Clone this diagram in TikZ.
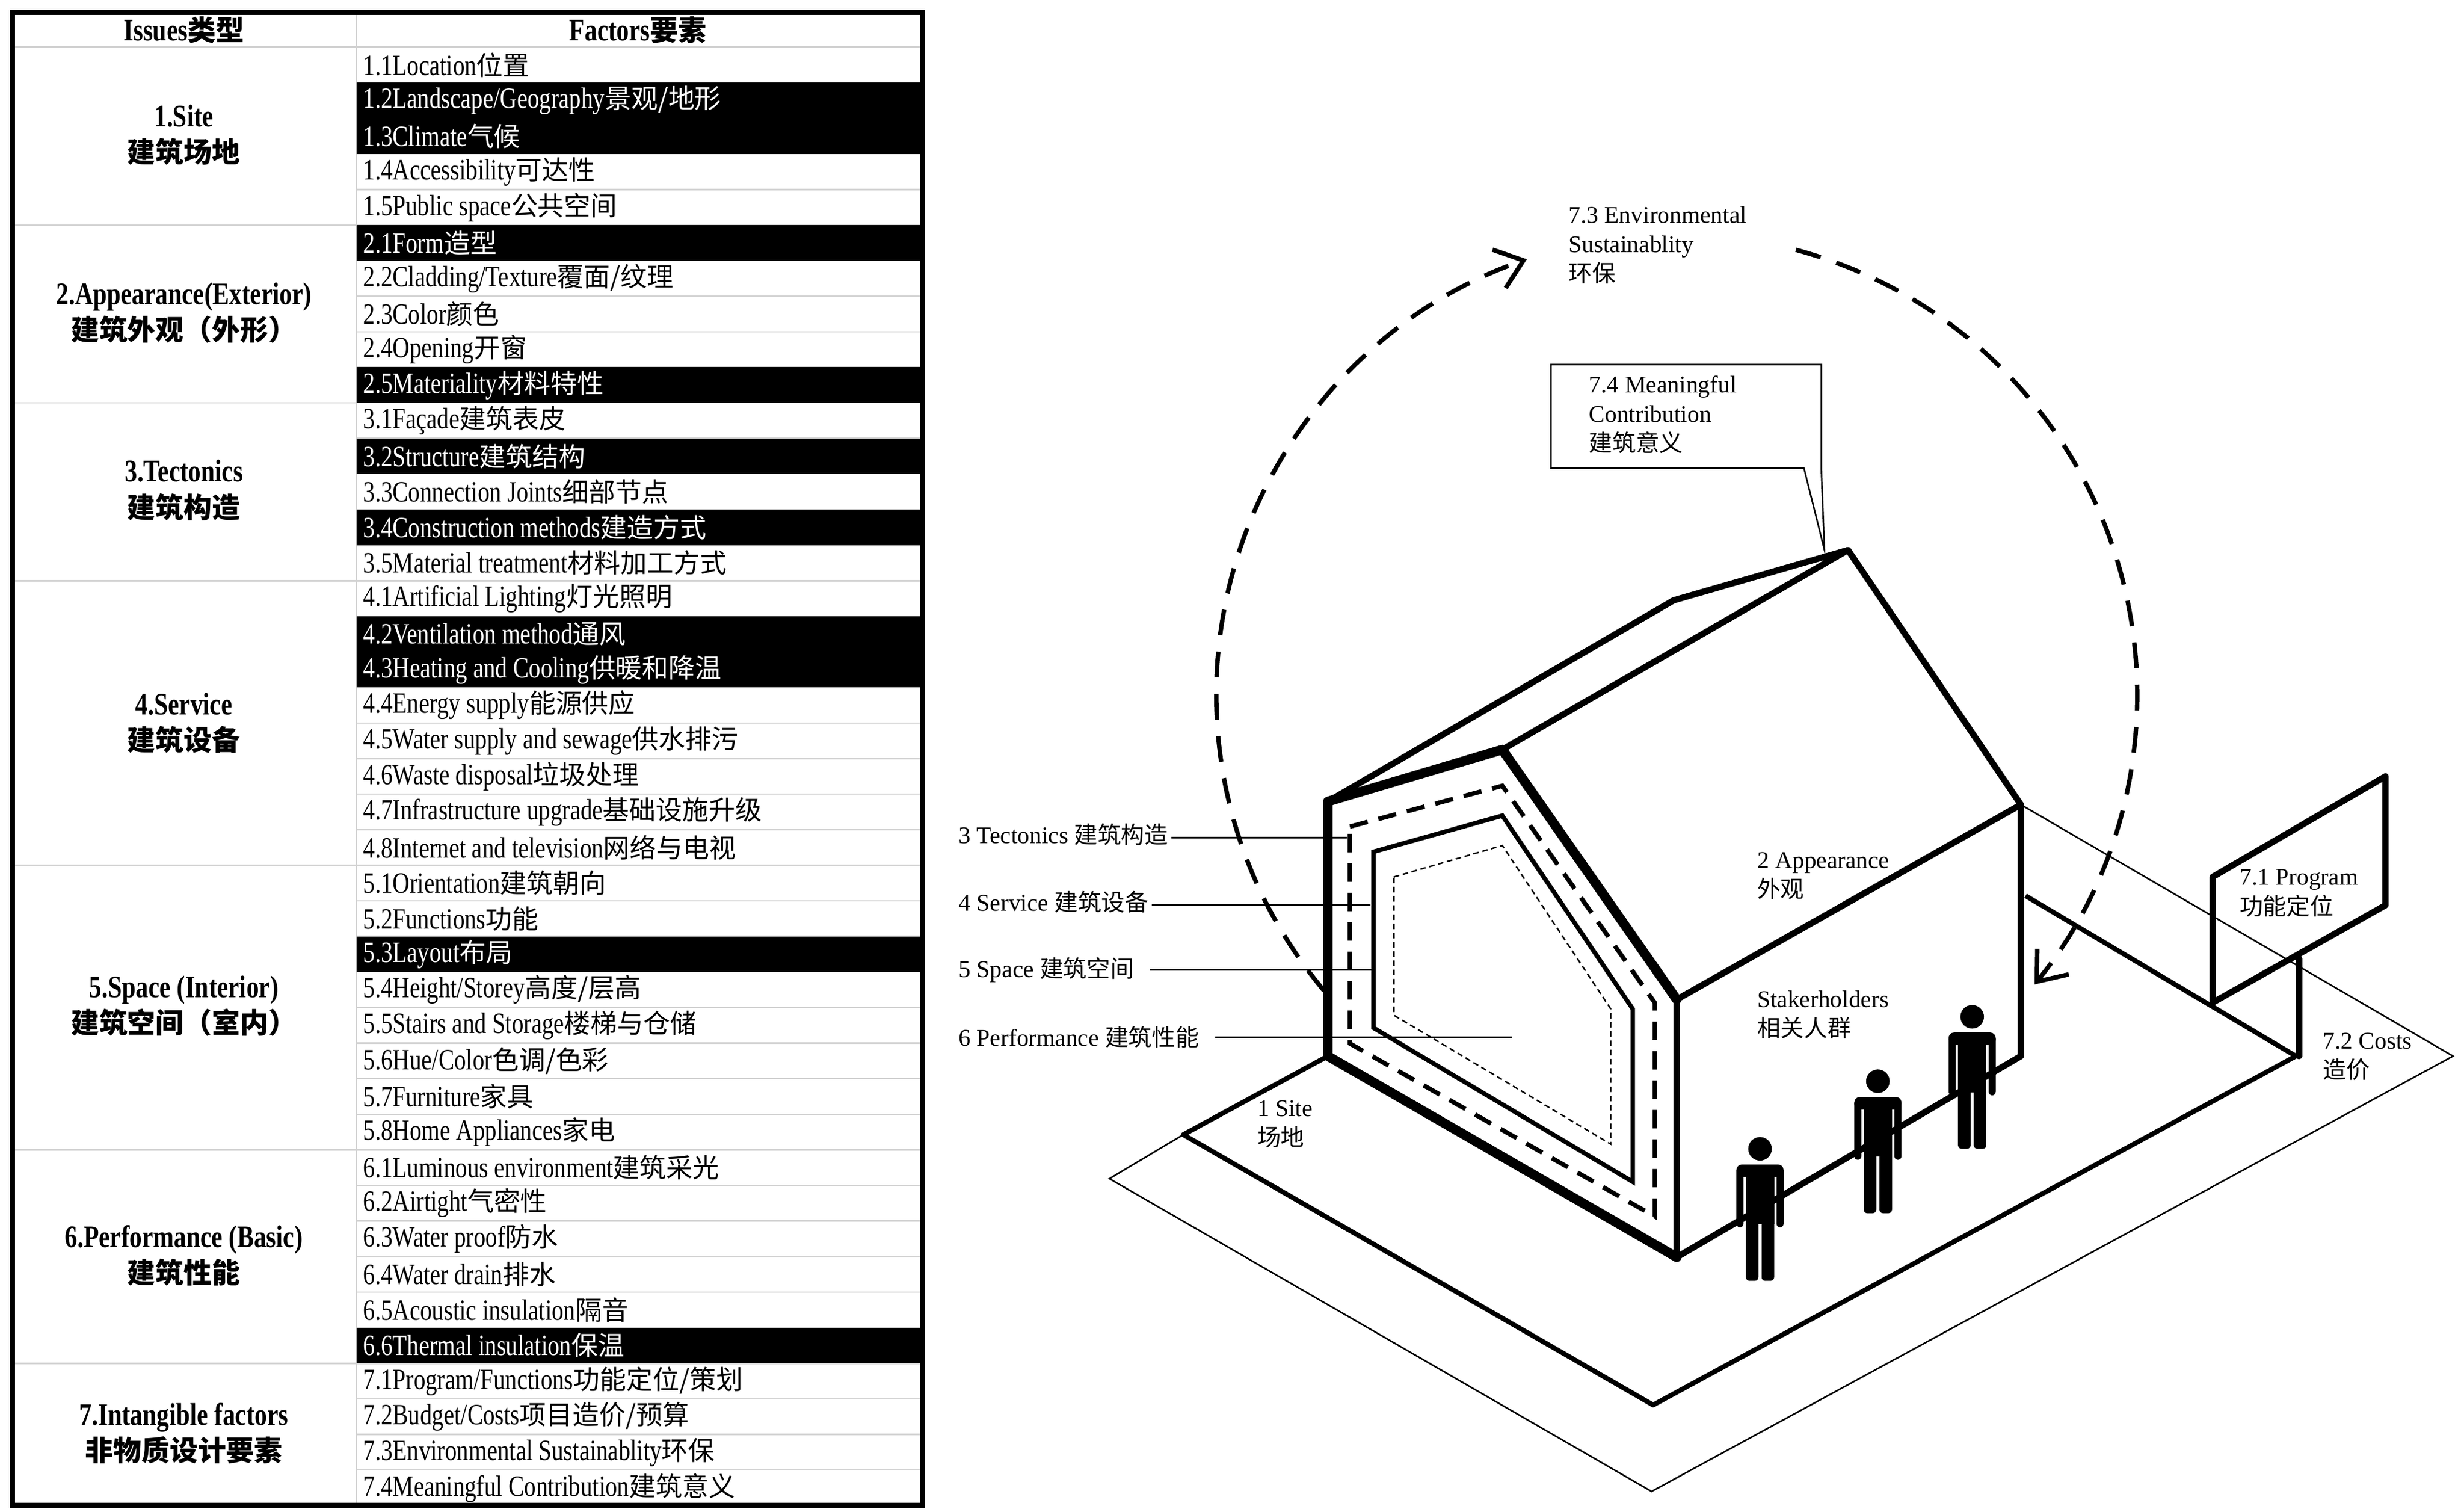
\documentclass[tikz,border=0pt]{standalone}
\usepackage{fontspec}
\setmainfont{Liberation Serif}
\newfontfamily\narrowfont{Liberation Serif}[FakeStretch=0.8]
\newfontfamily\cjk{Noto Sans CJK SC}[Scale=0.9]
\newfontfamily\cjkd{Noto Sans CJK SC}[Scale=0.98]
\newcommand\C[1]{{\cjk #1}}
\newcommand\D[1]{{\cjkd #1}}
\usetikzlibrary{arrows.meta}
\tikzset{
  rowtext/.style={anchor=west,inner sep=0pt,font=\narrowfont\fontsize{16}{18}\selectfont},
  issue/.style={align=center,inner sep=0pt,font=\narrowfont\bfseries\fontsize{17}{19.5}\selectfont},
  lbl/.style={anchor=north west,align=left,inner sep=0pt,font=\fontsize{13}{16}\selectfont},
  thk/.style={line width=3.4pt,line join=round,line cap=round},
  vthk/.style={line width=5.2pt,line join=round,line cap=round},
  sitel/.style={line width=2.6pt,line join=round},
  thinl/.style={line width=0.85pt},
  person/.pic={
    \fill (0,0) circle (7.5);
    \fill[rounded corners=3] (-15,10) rectangle (15,18);
    \fill[rounded corners=2] (-15,12) rectangle (-10.5,50);
    \fill[rounded corners=2] (10.5,12) rectangle (15,50);
    \fill (-9,12) rectangle (9,48);
    \fill[rounded corners=2] (-9,44) rectangle (-1,84);
    \fill[rounded corners=2] (1,44) rectangle (9,84);
  }
}
\newcommand\tabrow[3]{%
  \pgfmathsetmacro\yt{30+22.634*(#1-1)}%
  \pgfmathsetmacro\yb{30+22.634*#1}%
  \ifnum#2=1
    \fill (227,\yt) rectangle (587,\yb);
    \node[rowtext,text=white] (r#1) at (231,{(\yt+\yb)/2}) {#3};
  \else
    \draw[gray!35,line width=0.8pt] (227,\yb) -- (587,\yb);
    \node[rowtext] (r#1) at (231,{(\yt+\yb)/2}) {#3};
  \fi}
\begin{document}
\begin{tikzpicture}[x=0.03cm,y=-0.03cm]
\useasboundingbox (0,0) rectangle (1568,962);
% ---------- table ----------
\draw[gray!35,line width=0.8pt] (8,30) -- (587,30);
\draw[gray!35,line width=0.8pt] (227,8) -- (227,958);
\foreach \yy in {143.2,256.3,369.5,550.6,731.7,867.5}
  \draw[gray!35,line width=0.8pt] (8,\yy) -- (587,\yy);
\node[issue] (h1) at (117,19) {Issues\C{类型}};
\node[issue] (h2) at (406,19) {Factors\C{要素}};
\tabrow{1}{0}{1.1Location\C{位置}}
\tabrow{2}{1}{1.2Landscape/Geography\C{景观/地形}}
\tabrow{3}{1}{1.3Climate\C{气候}}
\tabrow{4}{0}{1.4Accessibility\C{可达性}}
\tabrow{5}{0}{1.5Public space\C{公共空间}}
\tabrow{6}{1}{2.1Form\C{造型}}
\tabrow{7}{0}{2.2Cladding/Texture\C{覆面/纹理}}
\tabrow{8}{0}{2.3Color\C{颜色}}
\tabrow{9}{0}{2.4Opening\C{开窗}}
\tabrow{10}{1}{2.5Materiality\C{材料特性}}
\tabrow{11}{0}{3.1Façade\C{建筑表皮}}
\tabrow{12}{1}{3.2Structure\C{建筑结构}}
\tabrow{13}{0}{3.3Connection Joints\C{细部节点}}
\tabrow{14}{1}{3.4Construction methods\C{建造方式}}
\tabrow{15}{0}{3.5Material treatment\C{材料加工方式}}
\tabrow{16}{0}{4.1Artificial Lighting\C{灯光照明}}
\tabrow{17}{1}{4.2Ventilation method\C{通风}}
\tabrow{18}{1}{4.3Heating and Cooling\C{供暖和降温}}
\tabrow{19}{0}{4.4Energy supply\C{能源供应}}
\tabrow{20}{0}{4.5Water supply and sewage\C{供水排污}}
\tabrow{21}{0}{4.6Waste disposal\C{垃圾处理}}
\tabrow{22}{0}{4.7Infrastructure upgrade\C{基础设施升级}}
\tabrow{23}{0}{4.8Internet and television\C{网络与电视}}
\tabrow{24}{0}{5.1Orientation\C{建筑朝向}}
\tabrow{25}{0}{5.2Functions\C{功能}}
\tabrow{26}{1}{5.3Layout\C{布局}}
\tabrow{27}{0}{5.4Height/Storey\C{高度/层高}}
\tabrow{28}{0}{5.5Stairs and Storage\C{楼梯与仓储}}
\tabrow{29}{0}{5.6Hue/Color\C{色调/色彩}}
\tabrow{30}{0}{5.7Furniture\C{家具}}
\tabrow{31}{0}{5.8Home Appliances\C{家电}}
\tabrow{32}{0}{6.1Luminous environment\C{建筑采光}}
\tabrow{33}{0}{6.2Airtight\C{气密性}}
\tabrow{34}{0}{6.3Water proof\C{防水}}
\tabrow{35}{0}{6.4Water drain\C{排水}}
\tabrow{36}{0}{6.5Acoustic insulation\C{隔音}}
\tabrow{37}{1}{6.6Thermal insulation\C{保温}}
\tabrow{38}{0}{7.1Program/Functions\C{功能定位/策划}}
\tabrow{39}{0}{7.2Budget/Costs\C{项目造价/预算}}
\tabrow{40}{0}{7.3Environmental Sustainablity\C{环保}}
\tabrow{41}{0}{7.4Meaningful Contribution\C{建筑意义}}
\node[issue] (g1) at (117,86) {1.Site\\\C{建筑场地}};
\node[issue] (g2) at (117,199) {2.Appearance(Exterior)\\\C{建筑外观（外形）}};
\node[issue] (g3) at (117,312) {3.Tectonics\\\C{建筑构造}};
\node[issue] (g4) at (117,460) {4.Service\\\C{建筑设备}};
\node[issue] (g5) at (117,640) {5.Space (Interior)\\\C{建筑空间（室内）}};
\node[issue] (g6) at (117,799) {6.Performance (Basic)\\\C{建筑性能}};
\node[issue] (g7) at (117,912) {7.Intangible factors\\\C{非物质设计要素}};
\draw[line width=2.8pt] (8,8) rectangle (587,958);
% ---------- site ----------
\draw[thinl] (753,722) -- (706,750) -- (1051,949) -- (1561,672) -- (1286,512);
\draw[sitel] (845,672) -- (753,722) -- (1052,894) -- (1461,672) -- (1289,570);
% ---------- house ----------
\draw[thk] (845,510) -- (1065,382) -- (1176,350) -- (956,477);
\draw[thk] (1176,350) -- (1286,512) -- (1286,672);
\draw[thk] (1067,636) -- (1286,512);
\draw[thk] (1067,636) -- (1067,800);
\draw[thk] (1067,800) -- (1286,672);
\draw[vthk] (1067,636) -- (956,477) -- (845,510) -- (845,672) -- (1067,800);
\draw[line width=2.4pt,dash pattern=on 10pt off 6pt] (859,526) -- (956,500) -- (1053,638) -- (1053,774) -- (859,664) -- cycle;
\draw[line width=2.4pt] (874,542) -- (956,519) -- (1039,642) -- (1039,752) -- (874,654) -- cycle;
\draw[line width=0.8pt,dash pattern=on 3pt off 2pt] (887,558) -- (956,538) -- (1025,642) -- (1025,728) -- (887,646) -- cycle;
% ---------- sign ----------
\draw[thk] (1463,610) -- (1463,672);
\draw[thk] (1408,558) -- (1518,494) -- (1518,576) -- (1408,638) -- cycle;
\node[lbl] (p71) at (1425,553) {7.1 Program\\\D{功能定位}};
% ---------- callout 7.4 ----------
\draw[thinl,fill=white] (987,232) -- (1159,232) -- (1159,298) -- (1161,350) -- (1148,298) -- (987,298) -- cycle;
\node[lbl] (p74) at (1011,239) {7.4 Meaningful\\Contribution\\\D{建筑意义}};
% ---------- dashed circle ----------
\coordinate (cc) at (1067,442);
\draw[line width=2.4pt,dash pattern=on 14pt off 9pt,-{Straight Barb[length=14pt,width=22pt,line width=2.4pt]}]
  (cc) ++(140:293) arc[start angle=140,end angle=251,radius=293];
\draw[line width=2.4pt,dash pattern=on 14pt off 9pt,-{Straight Barb[length=14pt,width=22pt,line width=2.4pt]}]
  (cc) ++(285:293) arc[start angle=285,end angle=399,radius=293];
\node[lbl] (p73) at (998,131) {7.3 Environmental\\Sustainablity\\\D{环保}};
% ---------- labels ----------
\node[lbl,anchor=west] (t3) at (610,531) {3 Tectonics \D{建筑构造}};
\node[lbl,anchor=west] (t4) at (610,574) {4 Service \D{建筑设备}};
\node[lbl,anchor=west] (t5) at (610,617) {5 Space \D{建筑空间}};
\node[lbl,anchor=west] (t6) at (610,660) {6 Performance \D{建筑性能}};
\coordinate (e3) at (857,533);
\coordinate (e4) at (872,576);
\coordinate (e5) at (874,617);
\coordinate (e6) at (962,660);
\draw[thinl] (t3.east) ++(2,2) -- (e3);
\draw[thinl] (t4.east) ++(2,2) -- (e4);
\draw[thinl] (t5.east) ++(10,0) -- (e5);
\draw[thinl] (t6.east) ++(10,0) -- (e6);
\node[lbl] (t1) at (800,700) {1 Site\\\D{场地}};
\node[lbl] (t2) at (1118,542) {2 Appearance\\\D{外观}};
\node[lbl] (ts) at (1118,630) {Stakerholders\\\D{相关人群}};
\node[lbl] (t72) at (1478,657) {7.2 Costs\\\D{造价}};
% ---------- people ----------
\pic at (1120,731) {person};
\pic at (1195,688) {person};
\pic at (1255,647) {person};
\end{tikzpicture}
\end{document}
